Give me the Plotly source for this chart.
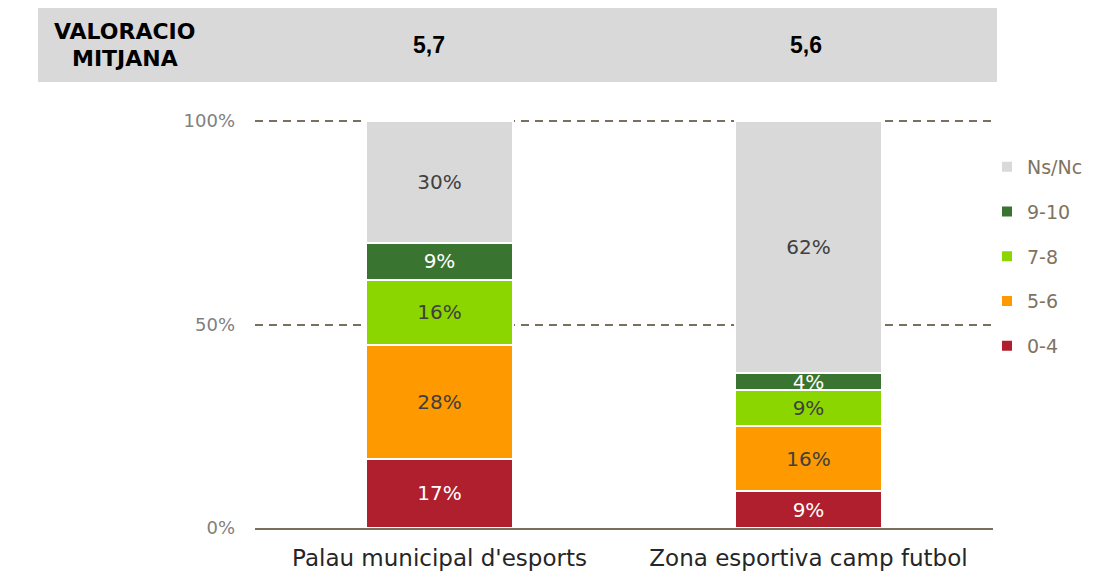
import plotly.graph_objects as go

categories = ["Palau municipal d'esports", "Zona esportiva camp futbol"]
series_names = ["0-4", "5-6", "7-8", "9-10", "Ns/Nc"]
v_04 = [17, 9]
v_56 = [28, 16]
v_78 = [16, 9]
v_910 = [9, 4]
v_nsnc = [30, 62]
mean_scores = ["5,7", "5,6"]
header_lines = ["VALORACIO", "MITJANA"]
y_ticks = [0, 50, 100]
y_ticklabels = ["0%", "50%", "100%"]

values = [v_04, v_56, v_78, v_910, v_nsnc]
colors = ["#B01F2E", "#FF9900", "#8CD600", "#3A7431", "#D9D9D9"]
text_colors = [["#FFFFFF", "#FFFFFF"], ["#404040", "#404040"], ["#404040", "#404040"],
               ["#FFFFFF", "#FFFFFF"], ["#404040", "#404040"]]
ranks = [5, 4, 3, 2, 1]

FONT = "DejaVu Sans"

# figure placed inside the page's 8px body margin
W, H = 1081, 564
PL, PR, PT, PB = 255, 993, 117, 528  # plot area in screen pixels
OFF = 8


def px(sx):
    return (sx - PL) / (PR - PL)


def py(sy):
    return (PB - sy) / (PB - PT)


fig = go.Figure()
for name, vals, col, tc, rk in zip(series_names, values, colors, text_colors, ranks):
    fig.add_trace(go.Bar(
        x=categories, y=vals, name=name, legendgroup=name, legendrank=rk,
        marker=dict(color=col, line=dict(color="white", width=2)),
        texttemplate="%{y}%", textposition="inside", insidetextanchor="middle",
        textfont=dict(family=FONT, size=20, color=tc),
        hoverinfo="skip",
    ))

fig.update_layout(
    barmode="stack",
    bargap=0.604,
    width=W, height=H,
    margin=dict(l=PL - OFF, r=W - (PR - OFF), t=PT - OFF, b=H - (PB - OFF),
                autoexpand=False),
    plot_bgcolor="white", paper_bgcolor="white",
    font=dict(family=FONT),
    uniformtext=dict(minsize=20, mode="show"),
    showlegend=True,
    legend=dict(
        x=px(987), y=py(148), xanchor="left", yanchor="top",
        traceorder="grouped", tracegroupgap=17,
        font=dict(family=FONT, size=19, color="#7F7360"),
        itemwidth=30, bgcolor="rgba(0,0,0,0)",
    ),
    xaxis=dict(
        showgrid=False, showline=True, linecolor="#7A6F5C", linewidth=2,
        tickfont=dict(family=FONT, size=23, color="#262626"),
        ticks="", ticklabelstandoff=8, automargin=False,
    ),
    yaxis=dict(
        range=[0, 101], tickvals=y_ticks, ticktext=y_ticklabels,
        showgrid=True, gridcolor="#7A705E", griddash="8px,6px", gridwidth=2,
        zeroline=False, showline=False,
        tickfont=dict(family=FONT, size=18, color="#808080"),
        ticks="", ticklabelstandoff=19, automargin=False,
    ),
)

# header band
fig.add_shape(type="rect", xref="paper", yref="paper",
              x0=px(38), x1=px(997), y0=py(82), y1=py(5),
              fillcolor="#D9D9D9", line=dict(width=0), layer="below")
for line, sy in zip(header_lines, [31, 58]):
    fig.add_annotation(xref="paper", yref="paper", x=px(125), y=py(sy),
                       xanchor="center", yanchor="middle",
                       text="<b>" + line + "</b>", showarrow=False,
                       font=dict(family="DejaVu Sans", size=22, color="#000000"))
for cat, m, dx in zip(categories, mean_scores, [-11, -3]):
    fig.add_annotation(xref="x", yref="paper", x=cat, y=py(45), xshift=dx,
                       xanchor="center", yanchor="middle",
                       text="<b>" + m + "</b>", showarrow=False,
                       font=dict(family="Liberation Sans", size=23, color="#000000"))

fig.write_html("out.html")
